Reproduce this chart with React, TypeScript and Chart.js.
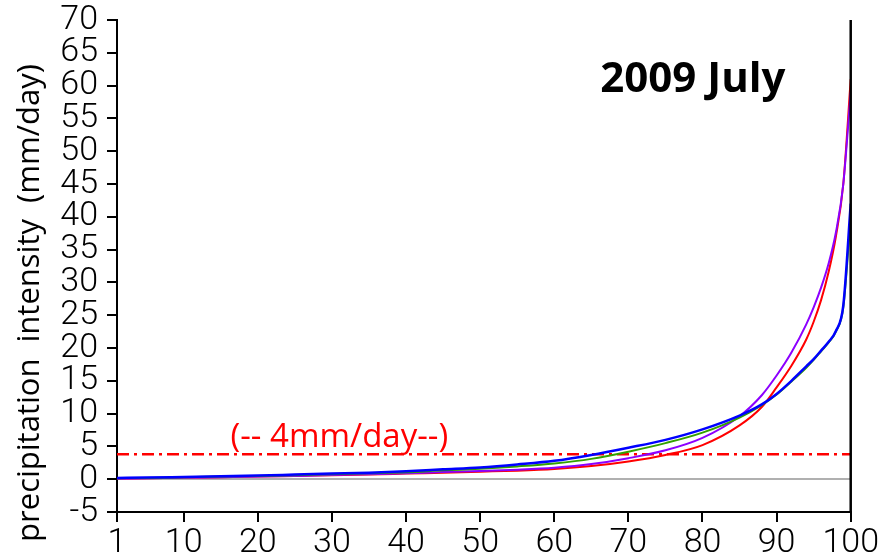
import { useEffect, useRef } from 'react';
import { Chart, registerables } from 'chart.js';
Chart.register(...registerables);

const percentiles = [1, 5, 10, 15, 20, 25, 30, 35, 40, 45, 50, 55, 60, 65, 70, 75, 80, 85, 88, 90, 92, 94, 95, 96, 97, 98, 99, 100];
const blueSeries = [0.2, 0.25, 0.35, 0.45, 0.55, 0.7, 0.85, 1.0, 1.2, 1.5, 1.8, 2.25, 2.8, 3.7, 4.8, 6.0, 7.6, 9.7, 11.4, 13.0, 15.0, 17.2, 18.3, 19.6, 20.9, 22.6, 26.5, 42];
const greenSeries = [0.15, 0.2, 0.3, 0.4, 0.5, 0.6, 0.75, 0.9, 1.05, 1.35, 1.6, 1.95, 2.4, 3.1, 4.2, 5.5, 7.1, 9.4, 11.3, 12.9, 14.9, 17.0, 18.2, 19.5, 20.8, 22.5, 26.2, 40];
const purpleSeries = [0.1, 0.15, 0.25, 0.3, 0.4, 0.5, 0.65, 0.75, 0.9, 1.1, 1.25, 1.45, 1.75, 2.3, 3.2, 4.4, 6.3, 9.6, 12.8, 15.8, 19.3, 23.6, 26.2, 29.2, 32.8, 37.6, 45.0, 59];
const redSeries = [0.1, 0.15, 0.25, 0.3, 0.4, 0.5, 0.6, 0.7, 0.85, 1.0, 1.15, 1.3, 1.55, 2.0, 2.7, 3.7, 5.2, 8.2, 11.0, 14.0, 17.3, 21.3, 24.0, 27.3, 31.5, 37.0, 45.0, 61];
const xTicks = [1, 10, 20, 30, 40, 50, 60, 70, 80, 90, 100];
const thresholdValue = 3.8;
const thresholdLabel = '(-- 4mm/day--)';
const chartTitle = '2009 July';
const yTitle = 'precipitation  intensity  (mm/day)';

const toXY = (ys: number[]) => percentiles.map((x, i) => ({ x, y: ys[i] }));

const overlayPlugin = {
  id: 'overlay',
  afterDatasetsDraw(chart: any) {
    const { ctx, chartArea, scales } = chart;
    ctx.save();
    ctx.strokeStyle = '#000';
    ctx.lineWidth = 2.5;
    ctx.beginPath();
    ctx.moveTo(chartArea.right, chartArea.top);
    ctx.lineTo(chartArea.right, chartArea.bottom);
    ctx.stroke();
    ctx.fillStyle = '#000';
    ctx.font = 'bold 42px "Open Sans"';
    ctx.textAlign = 'center';
    ctx.textBaseline = 'alphabetic';
    ctx.fillText(chartTitle, scales.x.getPixelForValue(78.7), scales.y.getPixelForValue(59));
    ctx.fillStyle = '#ff0000';
    ctx.font = '33px "Open Sans"';
    ctx.fillText(thresholdLabel, scales.x.getPixelForValue(31), scales.y.getPixelForValue(4.9));
    // y axis title
    ctx.fillStyle = '#000';
    ctx.font = '31px "Open Sans"';
    ctx.textBaseline = 'middle';
    ctx.translate(30, (chartArea.top + chartArea.bottom) / 2 + 37);
    ctx.rotate(-Math.PI / 2);
    ctx.fillText(yTitle, 0, 0);
    ctx.restore();
  },
};

const xTickFont = { family: 'Roboto', size: 34, weight: 300 as any, lineHeight: 1 };
const yTickFont = { family: 'Roboto', size: 34, weight: 300 as any, lineHeight: 0.5 };

export default function App() {
  const ref = useRef<HTMLCanvasElement>(null);
  useEffect(() => {
    document.body.style.margin = '0';
    const chart = new Chart(ref.current!, {
      type: 'line',
      data: {
        datasets: [
          { data: toXY(blueSeries), borderColor: '#0000ff', borderWidth: 2.5 },
          { data: toXY(greenSeries), borderColor: '#33a000', borderWidth: 2 },
          { data: toXY(purpleSeries), borderColor: '#8c00ff', borderWidth: 2 },
          { data: toXY(redSeries), borderColor: '#ff0000', borderWidth: 2 },
          {
            data: [{ x: percentiles[0], y: thresholdValue }, { x: percentiles[percentiles.length - 1], y: thresholdValue }],
            borderColor: '#ff0000', borderWidth: 2.5, borderDash: [12, 5, 3, 5],
          },
        ].map((d: any) => ({ ...d, pointRadius: 0, fill: false, cubicInterpolationMode: 'monotone' })),
      },
      options: {
        responsive: false,
        animation: false,
        layout: { padding: { top: 20, right: 31, left: 0, bottom: 0 } },
        plugins: { legend: { display: false }, tooltip: { enabled: false } },
        scales: {
          x: {
            type: 'linear',
            min: 1,
            max: 100,
            afterBuildTicks: (s: any) => { s.ticks = xTicks.map((v) => ({ value: v })); },
            afterFit: (s: any) => { s.height = 43; },
            ticks: { color: '#000', font: xTickFont, padding: 4, maxRotation: 0, autoSkip: false },
            grid: { drawOnChartArea: false, tickColor: '#000', tickLength: 10, lineWidth: 2 },
            border: { color: '#000', width: 2 },
          },
          y: {
            type: 'linear',
            min: -5,
            max: 70,
            afterFit: (s: any) => { s.width = 117; },
            ticks: { stepSize: 5, color: '#000', font: yTickFont, padding: 9, autoSkip: false },
            grid: {
              color: (c: any) => (c.tick && c.tick.value === 0 ? '#b0b0b0' : 'rgba(0,0,0,0)'),
              tickColor: '#000', tickLength: 10, lineWidth: 2,
            },
            border: { color: '#000', width: 2 },
          },
        },
      },
      plugins: [overlayPlugin],
    });
    return () => chart.destroy();
  }, []);
  return (
    <div style={{ width: 883, height: 555 }}>
      <canvas ref={ref} width={883} height={555} />
    </div>
  );
}
